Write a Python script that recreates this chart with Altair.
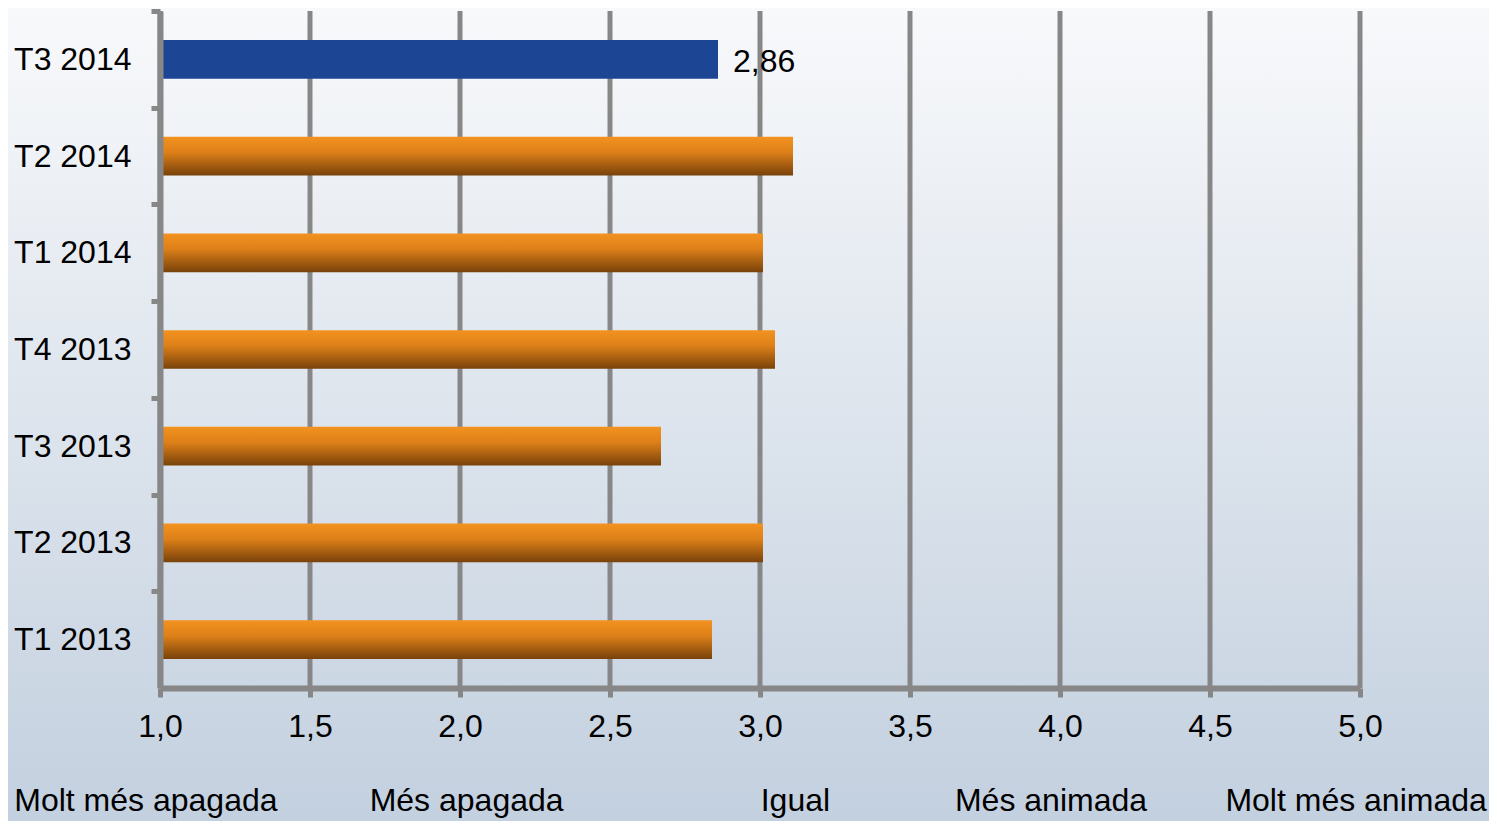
import altair as alt
import pandas as pd

periods = ["T3 2014", "T2 2014", "T1 2014", "T4 2013", "T3 2013", "T2 2013", "T1 2013"]
values = [2.86, 3.11, 3.01, 3.05, 2.67, 3.01, 2.84]
highlight = [1, 0, 0, 0, 0, 0, 0]

tick_values = [1.0, 1.5, 2.0, 2.5, 3.0, 3.5, 4.0, 4.5, 5.0]
bottom_labels = ["Molt més apagada", "Més apagada", "Igual", "Més animada", "Molt més animada"]
bottom_pos = [0.953, 2.022, 3.118, 3.97, 4.987]

W, H = 1200, 677
STEP = H / len(periods)
FONT = "Liberation Sans"
GRAY = "#878787"

df = pd.DataFrame({"period": periods, "value": values, "hl": highlight})
grid_df = pd.DataFrame({"v": tick_values})
bottom_df = pd.DataFrame({"label": bottom_labels, "pos": bottom_pos})
bg_df = pd.DataFrame({"a": [0]})

xscale = alt.Scale(domain=[1, 5], nice=False, zero=False)
yscale = alt.Scale(domain=periods, paddingInner=0, paddingOuter=0)

bg = alt.Chart(bg_df).mark_rect(
    color={
        "gradient": "linear",
        "x1": 0, "y1": 0, "x2": 0, "y2": 1,
        "stops": [
            {"offset": 0, "color": "#f8f9fb"},
            {"offset": 1, "color": "#c3d0df"},
        ],
    }
).encode(
    x=alt.value(-152), x2=alt.value(W + 129),
    y=alt.value(-3), y2=alt.value(H + 133),
)

grid = alt.Chart(grid_df).mark_rule(color=GRAY, strokeWidth=5).encode(
    x=alt.X("v:Q", scale=xscale)
)

xaxis = alt.Axis(
    values=tick_values,
    labelExpr="replace(format(datum.value, '.1f'), '.', ',')",
    grid=False, domainColor=GRAY, domainWidth=6,
    tickColor=GRAY, tickWidth=5, tickSize=9,
    labelFont=FONT, labelFontSize=32, labelColor="black",
    labelPadding=14, labelFlush=False, labelOverlap=False, labelBound=False,
    title=None, zindex=1,
)
yaxis = alt.Axis(
    grid=False, domainColor=GRAY, domainWidth=6,
    tickColor=GRAY, tickWidth=5, tickSize=9,
    tickOffset=-STEP / 2, labelOffset=STEP / 2,
    labelFont=FONT, labelFontSize=32, labelColor="black",
    labelPadding=20, title=None, zindex=1,
)

base = alt.Chart(df).encode(
    y=alt.Y("period:N", sort=periods, scale=yscale, axis=yaxis),
)

orange = base.transform_filter("datum.hl == 0").mark_bar(
    height=alt.RelativeBandSize(0.4), clip=True,
    color={
        "gradient": "linear",
        "x1": 0, "y1": 0, "x2": 0, "y2": 1,
        "stops": [
            {"offset": 0, "color": "#f3921f"},
            {"offset": 0.4, "color": "#dd8019"},
            {"offset": 1, "color": "#79420a"},
        ],
    },
).encode(x=alt.X("value:Q", scale=xscale, axis=xaxis))

blue = base.transform_filter("datum.hl == 1").mark_bar(
    height=alt.RelativeBandSize(0.4), color="#1c4694", clip=True
).encode(x=alt.X("value:Q", scale=xscale, axis=xaxis))

label = base.transform_filter("datum.hl == 1").transform_calculate(
    lbl="replace(format(datum.value, '.2f'), '.', ',')"
).mark_text(align="left", baseline="middle", dx=15, dy=3, font=FONT, fontSize=32, color="black").encode(
    x=alt.X("value:Q", scale=xscale), text="lbl:N"
)

bottom = alt.Chart(bottom_df).mark_text(
    align="center", baseline="alphabetic", font=FONT, fontSize=32, color="black"
).encode(
    x=alt.X("pos:Q", scale=xscale), y=alt.value(H + 123), text="label:N"
)

chart = alt.layer(bg, grid, orange, blue, label, bottom).properties(
    width=W, height=H,
    autosize=alt.AutoSizeParams(type="none"),
    padding={"left": 152, "top": 3, "right": 129, "bottom": 133},
).configure_view(stroke=None).configure(background="#f8f9fb")

chart.save("out.html", embed_options={"renderer": "svg", "actions": False})
